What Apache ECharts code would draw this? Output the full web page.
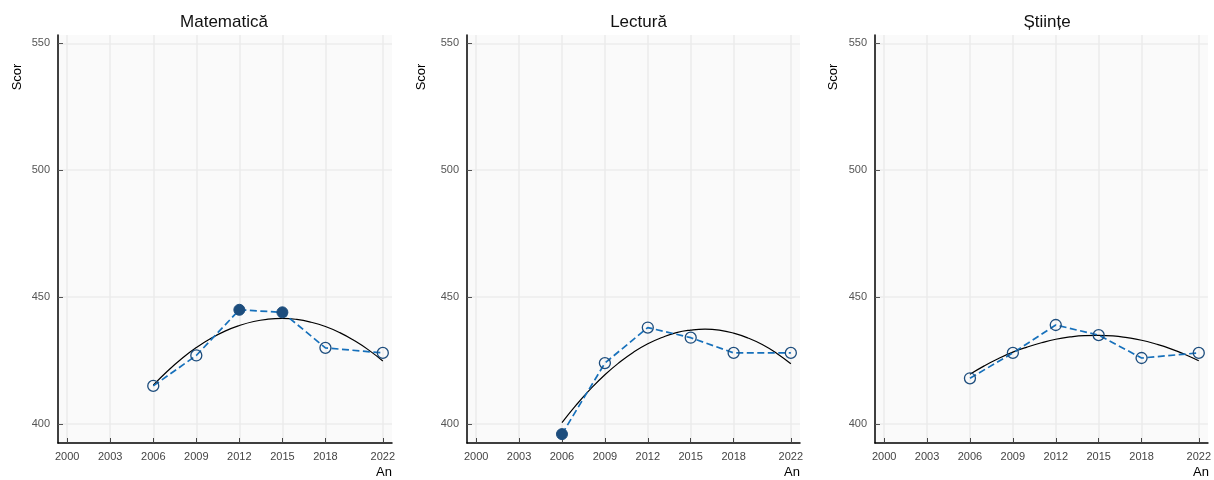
<!DOCTYPE html>
<html>
<head>
<meta charset="utf-8">
<script src="https://cdn.jsdelivr.net/npm/echarts@6/dist/echarts.min.js"></script>
<style>
html,body{margin:0;padding:0;background:#fff;}
#chart{width:1214px;height:480px;}
</style>
</head>
<body>
<div id="chart"></div>
<script>
// ---- data ----
const subjects = ['Matematică', 'Lectură', 'Științe'];
const years = [2006, 2009, 2012, 2015, 2018, 2022];
const matScores = [415, 427, 445, 444, 430, 428];
const lectScores = [396, 424, 438, 434, 428, 428];
const stiScores = [418, 428, 439, 435, 426, 428];
// highlighted (filled) markers per subject
const matFilled = [2012, 2015];
const lectFilled = [2006];
const stiFilled = [];
// trend curve at each year 2006..2022
const trendYears = [2006,2007,2008,2009,2010,2011,2012,2013,2014,2015,2016,2017,2018,2019,2020,2021,2022];
const matTrend = [415.3,420.9,425.8,430.1,433.7,436.6,438.8,440.4,441.3,441.6,441.2,440.1,438.4,436.0,432.9,429.2,424.8];
const lectTrend = [400.5,407.5,413.8,419.4,424.2,428.3,431.6,434.1,436.0,437.0,437.4,437.0,435.8,433.9,431.3,427.9,423.7];
const stiTrend = [419.6,422.9,425.8,428.3,430.3,432.0,433.4,434.3,434.8,434.9,434.7,434.0,433.0,431.5,429.7,427.5,424.9];
const xTicks = [2000, 2003, 2006, 2009, 2012, 2015, 2018, 2022];
const yTicks = [400, 450, 500, 550];
const xLabel = 'An';
const yLabel = 'Scor';

const scores = [matScores, lectScores, stiScores];
const filled = [matFilled, lectFilled, stiFilled];
const trends = [matTrend, lectTrend, stiTrend];

// ---- layout ----
const grids = [
  {left: 58, width: 334, yNameX: 17},
  {left: 467, width: 333, yNameX: 421},
  {left: 875, width: 334, yNameX: 833}
];
const gridTop = 35, gridBottom = 37;

const option = {
  backgroundColor: '#ffffff',
  animation: false,
  title: [],
  grid: [],
  xAxis: [],
  yAxis: [],
  series: [],
  graphic: []
};

const dotColor = '#1d4d7d';
const lineColor = '#1670bb';
const font = 'Liberation Sans, Arial, sans-serif';

grids.forEach((g, i) => {
  option.grid.push({
    left: g.left, width: g.width, top: gridTop, bottom: gridBottom,
    show: true, backgroundColor: '#fafafa', borderWidth: 0,
    containLabel: false
  });
  option.title.push({
    text: subjects[i],
    left: g.left + g.width / 2 - (i === 0 ? 6 : 0),
    top: 9,
    textAlign: 'center',
    textStyle: {fontFamily: font, fontSize: 17, fontWeight: 'normal', color: '#111'}
  });
  option.xAxis.push({
    type: 'value', gridIndex: i, min: 1999.36, max: 2022.64,
    axisLine: {show: true, onZero: false, lineStyle: {color: '#000', width: 1.5}},
    axisTick: {show: true, inside: true, length: 5, customValues: xTicks, lineStyle: {color: '#444', width: 1}},
    axisLabel: {customValues: xTicks, color: '#444', fontSize: 11, fontFamily: font, margin: 8, formatter: v => String(v)},
    splitLine: {show: true, lineStyle: {color: '#ebebeb', width: 1.5}}
  });
  option.yAxis.push({
    type: 'value', gridIndex: i, min: 392.5, max: 553.3,
    axisLine: {show: true, onZero: false, lineStyle: {color: '#000', width: 1.5}},
    axisTick: {show: true, inside: true, length: 5, customValues: yTicks, lineStyle: {color: '#555', width: 1}},
    axisLabel: {customValues: yTicks, color: '#555', fontSize: 11, fontFamily: font, margin: 8, formatter: v => String(v)},
    splitLine: {show: true, lineStyle: {color: '#ececec', width: 1.5}}
  });
  // trend curve
  option.series.push({
    type: 'line', xAxisIndex: i, yAxisIndex: i, smooth: true, symbol: 'none',
    data: trendYears.map((y, k) => [y, trends[i][k]]),
    lineStyle: {color: '#000', width: 1.2}, z: 2
  });
  // observed scores
  option.series.push({
    type: 'line', xAxisIndex: i, yAxisIndex: i, symbol: 'circle', symbolSize: 11,
    data: years.map((y, k) => {
      const isFilled = filled[i].indexOf(y) >= 0;
      return {
        value: [y, scores[i][k]],
        itemStyle: isFilled
          ? {color: dotColor, borderColor: dotColor, borderWidth: 1}
          : {color: 'rgba(0,0,0,0)', borderColor: dotColor, borderWidth: 1.3}
      };
    }),
    lineStyle: {color: lineColor, width: 1.7, type: [7, 3.5]},
    z: 3
  });
  option.graphic.push({
    type: 'text', left: g.left + g.width - 16, top: 466,
    style: {text: xLabel, fontSize: 13, fontFamily: font, fill: '#000'}
  });
  option.graphic.push({
    type: 'text', x: g.yNameX, y: 77, rotation: Math.PI / 2,
    style: {text: yLabel, fontSize: 13, fontFamily: font, fill: '#000', align: 'center', verticalAlign: 'middle'}
  });
});

const chart = echarts.init(document.getElementById('chart'), null, {renderer: 'canvas'});
chart.setOption(option);
</script>
</body>
</html>
